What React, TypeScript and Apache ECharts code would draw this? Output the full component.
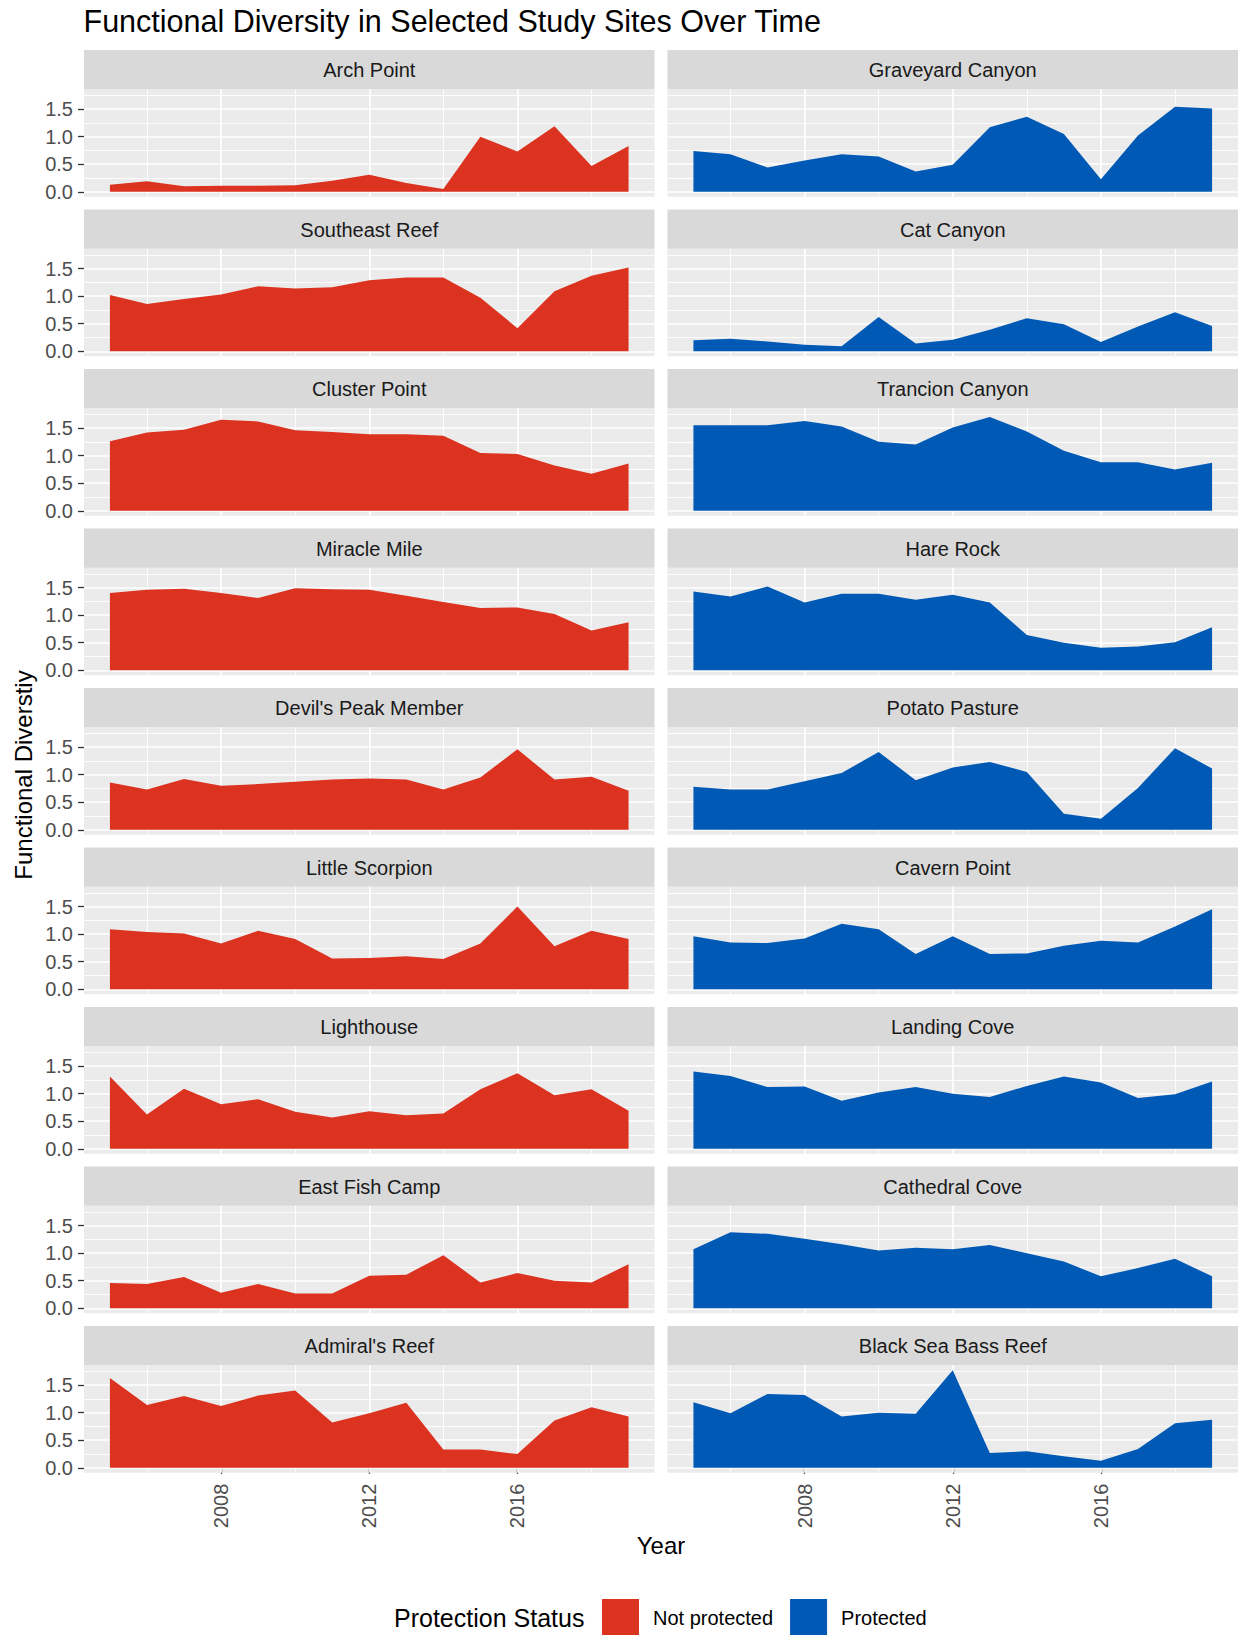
import React, { useEffect, useRef } from "react";
import * as echarts from "echarts";

const years = [2005, 2006, 2007, 2008, 2009, 2010, 2011, 2012, 2013, 2014, 2015, 2016, 2017, 2018, 2019];

const notProtectedSites = ["Arch Point", "Southeast Reef", "Cluster Point", "Miracle Mile", "Devil's Peak Member", "Little Scorpion", "Lighthouse", "East Fish Camp", "Admiral's Reef"];
const protectedSites = ["Graveyard Canyon", "Cat Canyon", "Trancion Canyon", "Hare Rock", "Potato Pasture", "Cavern Point", "Landing Cove", "Cathedral Cove", "Black Sea Bass Reef"];

const archPoint = [0.13, 0.19, 0.10, 0.11, 0.11, 0.12, 0.20, 0.31, 0.16, 0.05, 1.00, 0.73, 1.19, 0.47, 0.83];
const southeastReef = [1.02, 0.86, 0.95, 1.03, 1.18, 1.14, 1.16, 1.29, 1.34, 1.34, 0.97, 0.42, 1.09, 1.37, 1.52];
const clusterPoint = [1.26, 1.42, 1.47, 1.65, 1.62, 1.46, 1.43, 1.39, 1.39, 1.36, 1.05, 1.03, 0.82, 0.67, 0.86];
const miracleMile = [1.40, 1.46, 1.48, 1.40, 1.31, 1.49, 1.47, 1.46, 1.35, 1.24, 1.13, 1.14, 1.02, 0.72, 0.87];
const devilsPeakMember = [0.86, 0.73, 0.92, 0.80, 0.83, 0.87, 0.91, 0.93, 0.91, 0.73, 0.95, 1.46, 0.91, 0.96, 0.71];
const littleScorpion = [1.09, 1.04, 1.01, 0.83, 1.06, 0.91, 0.56, 0.57, 0.60, 0.55, 0.83, 1.50, 0.78, 1.06, 0.91];
const lighthouse = [1.31, 0.62, 1.09, 0.81, 0.90, 0.67, 0.57, 0.68, 0.61, 0.64, 1.08, 1.37, 0.97, 1.08, 0.69];
const eastFishCamp = [0.46, 0.44, 0.57, 0.28, 0.44, 0.27, 0.27, 0.59, 0.61, 0.96, 0.47, 0.64, 0.50, 0.47, 0.80];
const admiralsReef = [1.63, 1.14, 1.30, 1.12, 1.31, 1.40, 0.82, 0.99, 1.18, 0.33, 0.33, 0.25, 0.86, 1.10, 0.93];

const graveyardCanyon = [0.74, 0.68, 0.44, 0.57, 0.68, 0.64, 0.37, 0.49, 1.17, 1.36, 1.05, 0.23, 1.02, 1.54, 1.51];
const catCanyon = [0.20, 0.23, 0.18, 0.12, 0.09, 0.62, 0.14, 0.21, 0.39, 0.60, 0.49, 0.17, 0.45, 0.71, 0.46];
const trancionCanyon = [1.55, 1.55, 1.55, 1.63, 1.53, 1.25, 1.20, 1.51, 1.70, 1.44, 1.09, 0.88, 0.88, 0.75, 0.87];
const hareRock = [1.43, 1.34, 1.52, 1.23, 1.39, 1.39, 1.28, 1.37, 1.23, 0.64, 0.50, 0.41, 0.43, 0.51, 0.78];
const potatoPasture = [0.78, 0.73, 0.73, 0.88, 1.03, 1.41, 0.90, 1.13, 1.23, 1.05, 0.29, 0.20, 0.76, 1.48, 1.11];
const cavernPoint = [0.96, 0.85, 0.84, 0.92, 1.19, 1.09, 0.64, 0.96, 0.64, 0.65, 0.79, 0.88, 0.85, 1.14, 1.45];
const landingCove = [1.40, 1.32, 1.12, 1.13, 0.87, 1.02, 1.12, 1.00, 0.94, 1.14, 1.31, 1.20, 0.92, 0.99, 1.22];
const cathedralCove = [1.07, 1.38, 1.35, 1.26, 1.16, 1.05, 1.10, 1.07, 1.15, 1.00, 0.85, 0.58, 0.73, 0.90, 0.58];
const blackSeaBassReef = [1.19, 0.99, 1.34, 1.32, 0.93, 1.00, 0.98, 1.77, 0.27, 0.30, 0.21, 0.13, 0.34, 0.81, 0.87];

const notProtectedValues = [archPoint, southeastReef, clusterPoint, miracleMile, devilsPeakMember, littleScorpion, lighthouse, eastFishCamp, admiralsReef];
const protectedValues = [graveyardCanyon, catCanyon, trancionCanyon, hareRock, potatoPasture, cavernPoint, landingCove, cathedralCove, blackSeaBassReef];

const statusLabels = ["Not protected", "Protected"];
const yTicks = [0, 0.5, 1.0, 1.5];
const yMinorTicks = [0.25, 0.75, 1.25, 1.75];
const xTicks = [2008, 2012, 2016];
const xMinorTicks = [2006, 2010, 2014, 2018];

const COLORS = ["#DC3220", "#005AB5"];
const FONT = "'Liberation Sans', Arial, Helvetica, sans-serif";

export default function App() {
  const ref = useRef<HTMLDivElement>(null);

  useEffect(() => {
    if (!ref.current) return;
    const chart = echarts.init(ref.current, undefined, { renderer: "svg" });

    const allVals = [...notProtectedValues.flat(), ...protectedValues.flat()];
    const yMaxData = Math.max(...allVals);
    const yPad = yMaxData * 0.05;
    const xPad = (years[years.length - 1] - years[0]) * 0.05;

    const colLeft = [84, 667.5];
    const panelW = 570.5;
    const top0 = 89.3;
    const rowStep = 159.5;
    const panelH = 107.4;
    const stripH = 39.3;
    const nRows = 9;

    const grids: any[] = [];
    const xAxes: any[] = [];
    const yAxes: any[] = [];
    const series: any[] = [];
    const graphics: any[] = [];

    for (let r = 0; r < nRows; r++) {
      for (let c = 0; c < 2; c++) {
        const idx = grids.length;
        const left = colLeft[c];
        const top = top0 + rowStep * r;
        const isBottom = r === nRows - 1;
        const isLeft = c === 0;
        grids.push({
          left,
          top,
          width: panelW,
          height: panelH,
          show: true,
          backgroundColor: "#EBEBEB",
          borderWidth: 0,
          containLabel: false,
        });
        xAxes.push({
          type: "value",
          gridIndex: idx,
          min: years[0] - xPad,
          max: years[years.length - 1] + xPad,
          axisLine: { show: false },
          splitLine: { show: false },
          axisTick: {
            show: isBottom,
            customValues: xTicks,
            length: 6,
            lineStyle: { color: "#333333", width: 1.3 },
          },
          axisLabel: {
            show: isBottom,
            customValues: xTicks,
            rotate: 90,
            margin: 11,
            fontSize: 20,
            color: "#4D4D4D",
            fontFamily: FONT,
            formatter: (v: number) => String(v),
          },
        });
        yAxes.push({
          type: "value",
          gridIndex: idx,
          min: -yPad,
          max: yMaxData + yPad,
          axisLine: { show: false },
          splitLine: { show: false },
          axisTick: {
            show: isLeft,
            customValues: yTicks,
            length: 6,
            lineStyle: { color: "#333333", width: 1.3 },
          },
          axisLabel: {
            show: isLeft,
            customValues: yTicks,
            margin: 11,
            fontSize: 20,
            color: "#4D4D4D",
            fontFamily: FONT,
            formatter: (v: number) => v.toFixed(1),
          },
        });

        const vals = c === 0 ? notProtectedValues[r] : protectedValues[r];
        const name = c === 0 ? notProtectedSites[r] : protectedSites[r];
        const pts = years.map((y, i) => [y, vals[i]]);

        const gridLines: any[] = [];
        yMinorTicks.forEach((v) => gridLines.push({ yAxis: v, lineStyle: { width: 0.9 } }));
        xMinorTicks.forEach((v) => gridLines.push({ xAxis: v, lineStyle: { width: 0.9 } }));
        yTicks.forEach((v) => gridLines.push({ yAxis: v, lineStyle: { width: 1.7 } }));
        xTicks.forEach((v) => gridLines.push({ xAxis: v, lineStyle: { width: 1.7 } }));

        series.push({
          type: "line",
          name: "grid-" + name,
          xAxisIndex: idx,
          yAxisIndex: idx,
          data: pts,
          z: 1,
          silent: true,
          showSymbol: false,
          lineStyle: { opacity: 0, width: 0 },
          markLine: {
            silent: true,
            symbol: ["none", "none"],
            label: { show: false },
            z: 1,
            animation: false,
            lineStyle: { color: "#FFFFFF", type: "solid", opacity: 1 },
            emphasis: { disabled: true },
            data: gridLines,
          },
        });
        series.push({
          type: "line",
          name: statusLabels[c],
          xAxisIndex: idx,
          yAxisIndex: idx,
          data: pts,
          z: 3,
          silent: true,
          showSymbol: false,
          color: COLORS[c],
          itemStyle: { color: COLORS[c] },
          lineStyle: { width: 0, color: COLORS[c] },
          areaStyle: { color: COLORS[c], opacity: 1, origin: "auto" },
          emphasis: { disabled: true },
        });

        graphics.push({
          type: "rect",
          x: left,
          y: top - stripH,
          shape: { width: panelW, height: stripH },
          style: { fill: "#D9D9D9" },
          silent: true,
        });
        graphics.push({
          type: "text",
          x: left + panelW / 2,
          y: top - stripH / 2 + 0.5,
          style: {
            text: name,
            fill: "#1A1A1A",
            fontSize: 20,
            fontFamily: FONT,
            align: "center",
            verticalAlign: "middle",
          },
          silent: true,
        });
      }
    }

    graphics.push({
      type: "text",
      x: 83.5,
      y: 20.5,
      style: {
        text: "Functional Diversity in Selected Study Sites Over Time",
        fill: "#000000",
        fontSize: 30.5,
        fontFamily: FONT,
        align: "left",
        verticalAlign: "middle",
      },
      silent: true,
    });
    graphics.push({
      type: "text",
      x: 23.5,
      y: 775,
      rotation: Math.PI / 2,
      style: {
        text: "Functional Diverstiy",
        fill: "#000000",
        fontSize: 24,
        fontFamily: FONT,
        align: "center",
        verticalAlign: "middle",
      },
      silent: true,
    });
    graphics.push({
      type: "text",
      x: 661,
      y: 1545,
      style: {
        text: "Year",
        fill: "#000000",
        fontSize: 24,
        fontFamily: FONT,
        align: "center",
        verticalAlign: "middle",
      },
      silent: true,
    });
    graphics.push({
      type: "text",
      x: 394,
      y: 1618,
      style: {
        text: "Protection Status",
        fill: "#000000",
        fontSize: 25,
        fontFamily: FONT,
        align: "left",
        verticalAlign: "middle",
      },
      silent: true,
    });

    chart.setOption({
      animation: false,
      backgroundColor: "#FFFFFF",
      grid: grids,
      xAxis: xAxes,
      yAxis: yAxes,
      series,
      legend: {
        data: statusLabels,
        left: 602,
        top: 1599,
        padding: 0,
        orient: "horizontal",
        icon: "rect",
        itemWidth: 37,
        itemHeight: 37,
        itemGap: 17,
        selectedMode: false,
        textStyle: {
          fontSize: 20,
          color: "#000000",
          fontFamily: FONT,
          padding: [0, 0, 0, 9],
        },
      },
      graphic: graphics,
    });

    return () => {
      chart.dispose();
    };
  }, []);

  return (
    <div
      ref={ref}
      style={{ position: "absolute", left: 0, top: 0, width: 1238, height: 1635 }}
    />
  );
}
